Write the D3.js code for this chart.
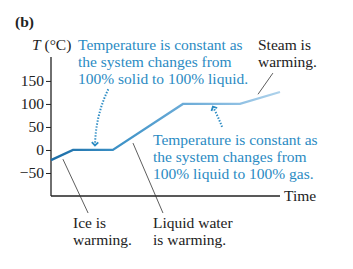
<!DOCTYPE html>
<html>
<head>
  <style>
    html, body { margin: 0; padding: 0; background: #fff; }
    svg { display: block; }
    text { font-family: "Liberation Serif", "Times New Roman", serif; }
  </style>
</head>
<body>
  <svg id="svg" width="353" height="269"></svg>
  <script src="https://d3js.org/d3.v7.min.js"></script>
  <script>
    // heating curve of water: time (arbitrary units) vs temperature in °C
    const times = [0, 0.96, 2.7, 5.76, 8.25, 10]
    const temps = [-22, 0, 0, 100, 100, 126]
    const tickValues = [-50, 0, 50, 100, 150]
    const tickLabels = ['\u221250', '0', '50', '100', '150']

    const blueNote = ['Temperature is constant as', 'the system changes from']
    const noteSolid = blueNote.concat(['100% solid to 100% liquid.'])
    const noteLiquid = blueNote.concat(['100% liquid to 100% gas.'])

    const svg = d3.select('#svg')
    const blue = '#2b8bc3'

    const x = d3.scaleLinear().domain([0, 10]).range([51, 280])
    const y = d3.scaleLinear().domain([-100, 202]).range([196, 57])

    // gradient along the curve, dark -> light
    const grad = svg.append('defs').append('linearGradient')
      .attr('id', 'curveGrad')
      .attr('gradientUnits', 'userSpaceOnUse')
      .attr('x1', x(0)).attr('x2', x(10))
      .attr('y1', 0).attr('y2', 0)
    const stops = [[0, '#1a6ca6'], [0.3, '#3d92c7'], [0.55, '#67a9d6'], [0.8, '#8cbee2'], [1, '#aed2eb']]
    stops.forEach(s => grad.append('stop').attr('offset', s[0]).attr('stop-color', s[1]))

    // axes
    const leftAxis = d3.axisLeft(y).tickValues(tickValues).tickSize(5)
      .tickFormat((d, i) => tickLabels[i])
    const gy = svg.append('g').attr('transform', `translate(${x(0)},0)`).call(leftAxis)
    gy.select('.domain').remove()
    gy.selectAll('line').attr('stroke', '#222')
    gy.selectAll('text').attr('font-family', 'Liberation Serif, serif')
      .attr('font-size', 15.5).attr('fill', '#222').attr('x', -7)

    svg.append('line')
      .attr('x1', x(0)).attr('x2', x(0)).attr('y1', y(-100)).attr('y2', y(202))
      .attr('stroke', '#222').attr('stroke-width', 1.3)
    svg.append('line')
      .attr('x1', x(0)).attr('x2', x(10)).attr('y1', y(-100)).attr('y2', y(-100))
      .attr('stroke', '#222').attr('stroke-width', 1.3)

    // curve
    const line = d3.line().x((d, i) => x(times[i])).y(d => y(d))
    svg.append('path')
      .attr('d', line(temps))
      .attr('fill', 'none')
      .attr('stroke', 'url(#curveGrad)')
      .attr('stroke-width', 2.3)

    // labels
    svg.append('text').attr('x', 15).attr('y', 27).attr('font-size', 15.5)
      .attr('font-weight', 'bold').attr('fill', '#222').text('(b)')
    const tl = svg.append('text').attr('x', 32).attr('y', 50).attr('font-size', 15.5).attr('fill', '#222')
    tl.append('tspan').attr('font-style', 'italic').text('T')
    tl.append('tspan').text(' (\u00b0C)')
    svg.append('text').attr('x', x(10) + 4).attr('y', y(-100) + 5).attr('font-size', 15.5)
      .attr('fill', '#222').text('Time')

    function block(lines, px, py, color) {
      const t = svg.append('text').attr('x', px).attr('y', py).attr('font-size', 15.5).attr('fill', color)
      lines.forEach((s, i) => t.append('tspan').attr('x', px).attr('dy', i ? 17 : 0).text(s))
    }
    block(noteSolid, 78, 50, blue)
    block(noteLiquid, 153, 145, blue)
    block(['Steam is', 'warming.'], 258, 50, '#222')
    block(['Ice is', 'warming.'], 73, 228, '#222')
    block(['Liquid water', 'is warming.'], 153, 228, '#222')

    // leader lines, in data units
    const leaders = [
      [[0.52, -20], [1.62, -137]],
      [[3.58, 15], [4.89, -137]],
      [[9.04, 121], [9.69, 167]]
    ]
    leaders.forEach(l => svg.append('line')
      .attr('x1', x(l[0][0])).attr('y1', y(l[0][1]))
      .attr('x2', x(l[1][0])).attr('y2', y(l[1][1]))
      .attr('stroke', '#333').attr('stroke-width', 0.8))

    // dotted arrows: [start, control, tip]
    const arrows = [
      [[2.5, 132], [1.95, 75], [1.92, 10]],
      [[7.47, 50], [7.3, 72], [7.07, 94]]
    ]
    arrows.forEach(a => {
      const p0 = [x(a[0][0]), y(a[0][1])], c = [x(a[1][0]), y(a[1][1])], p1 = [x(a[2][0]), y(a[2][1])]
      const p = d3.path()
      p.moveTo(p0[0], p0[1])
      p.quadraticCurveTo(c[0], c[1], p1[0], p1[1])
      svg.append('path').attr('d', p.toString()).attr('fill', 'none')
        .attr('stroke', blue).attr('stroke-width', 2).attr('stroke-dasharray', '1.4,1.6')
      const ang = Math.atan2(p1[1] - c[1], p1[0] - c[0])
      const s = 4.5
      const hp = d3.path()
      hp.moveTo(p1[0] - s * Math.cos(ang - 0.8), p1[1] - s * Math.sin(ang - 0.8))
      hp.lineTo(p1[0], p1[1])
      hp.lineTo(p1[0] - s * Math.cos(ang + 0.8), p1[1] - s * Math.sin(ang + 0.8))
      svg.append('path').attr('d', hp.toString()).attr('fill', 'none')
        .attr('stroke', blue).attr('stroke-width', 1.8)
    })
  </script>
</body>
</html>
